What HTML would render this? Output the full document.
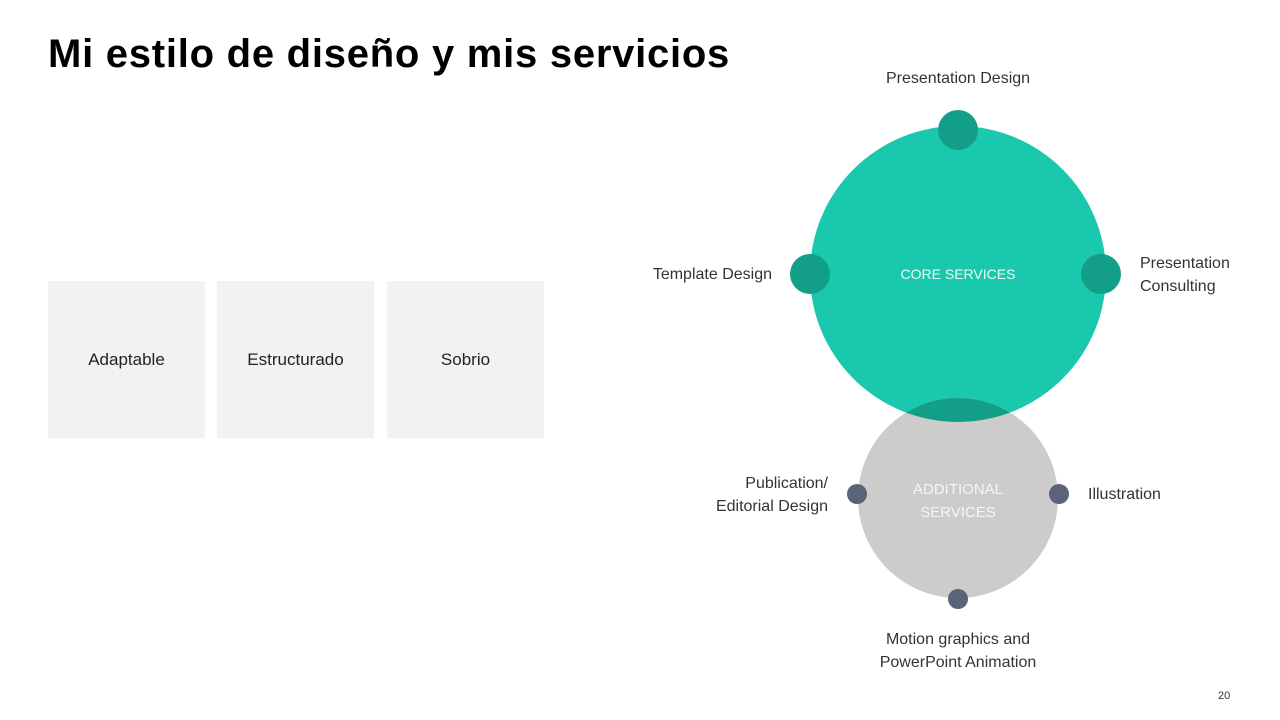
<!DOCTYPE html>
<html><head><meta charset="utf-8"><style>
body{margin:0;width:1280px;height:720px;background:#fff;position:relative;overflow:hidden;font-family:"Liberation Sans",sans-serif;}
h1{position:absolute;left:48px;top:32px;margin:0;font-size:40px;font-weight:bold;color:#000;letter-spacing:0.75px}
.box{position:absolute;top:281px;width:157px;height:157px;background:#f2f2f2;display:flex;align-items:center;justify-content:center;font-size:17px;color:#222}
.t{position:absolute;font-size:16px;color:#333;line-height:23px}
</style></head><body>
<h1>Mi estilo de diseño y mis servicios</h1>
<div class="box" style="left:48px">Adaptable</div>
<div class="box" style="left:217px">Estructurado</div>
<div class="box" style="left:387px">Sobrio</div>
<svg width="1280" height="720" style="position:absolute;left:0;top:0">
<defs><clipPath id="c"><circle cx="958" cy="498" r="100"/></clipPath></defs>
<circle cx="958" cy="274" r="148" fill="#1ac9ad"/>
<circle cx="958" cy="498" r="100" fill="#cccccc"/>
<circle cx="958" cy="274" r="148" fill="#139e88" clip-path="url(#c)"/>
<circle cx="958" cy="130" r="20" fill="#139e88"/>
<circle cx="810" cy="274" r="20" fill="#139e88"/>
<circle cx="1101" cy="274" r="20" fill="#139e88"/>
<circle cx="857" cy="494" r="10" fill="#5a6377"/>
<circle cx="1059" cy="494" r="10" fill="#5a6377"/>
<circle cx="958" cy="599" r="10" fill="#5a6377"/>
<text x="958" y="279" fill="#e8fbf7" font-size="14" text-anchor="middle" font-family="Liberation Sans">CORE SERVICES</text>
<text x="958" y="494" fill="#f5f5f5" font-size="15" text-anchor="middle" font-family="Liberation Sans">ADDITIONAL</text>
<text x="958" y="517" fill="#f5f5f5" font-size="15" text-anchor="middle" font-family="Liberation Sans">SERVICES</text>
</svg>
<div class="t" style="left:838px;top:67px;width:240px;text-align:center">Presentation Design</div>
<div class="t" style="left:600px;top:263px;width:172px;text-align:right">Template Design</div>
<div class="t" style="left:1140px;top:252px">Presentation<br>Consulting</div>
<div class="t" style="left:628px;top:472px;width:200px;text-align:right">Publication/<br>Editorial Design</div>
<div class="t" style="left:1088px;top:483px">Illustration</div>
<div class="t" style="left:838px;top:628px;width:240px;text-align:center">Motion graphics and<br>PowerPoint Animation</div>
<div class="t" style="left:1218px;top:685px;font-size:11px">20</div>
</body></html>
